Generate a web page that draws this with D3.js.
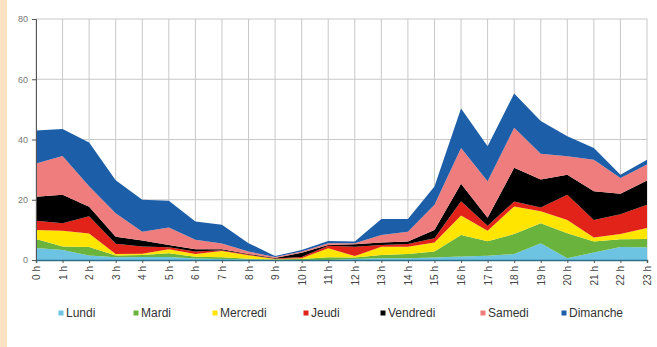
<!DOCTYPE html>
<html>
<head>
<meta charset="utf-8">
<script src="https://cdn.jsdelivr.net/npm/d3@7"></script>
<style>
  body { margin: 0; background: #fff; }
  svg { display: block; font-family: "Liberation Sans", Arial, sans-serif; }
</style>
</head>
<body>
<svg id="chart" width="657" height="347"></svg>
<script>
// hours on the x axis
const hours = ['0 h', '1 h', '2 h', '3 h', '4 h', '5 h', '6 h', '7 h', '8 h', '9 h', '10 h', '11 h',
    '12 h', '13 h', '14 h', '15 h', '16 h', '17 h', '18 h', '19 h', '20 h', '21 h', '22 h', '23 h'];

// one series per day (stacked)
const lundi    = [4, 3.3, 1.5, 0.9, 1, 1, 0.5, 0.3, 0.2, 0, 0, 0, 0.3, 0.6, 0.6, 0.8, 1.2, 1.4, 2, 5.6, 0.6, 2.5, 4.3, 4.2];
const mardi    = [3, 1.2, 2.8, 0.6, 0.7, 1.2, 0.6, 0.6, 0.2, 0.2, 0.3, 0.9, 0.5, 1.1, 1.4, 2, 7.1, 4.8, 6.6, 6.6, 8.3, 3.6, 2.6, 2.8];
const mercredi = [3, 5.2, 4.5, 0.5, 0.4, 1.4, 0.9, 2.1, 1.2, 0.1, 0.3, 3, 0.5, 2.7, 2.4, 3, 6.5, 3.5, 9.2, 4, 4.4, 1.4, 1.7, 3.6];
const jeudi    = [3, 2.5, 5.7, 3.4, 2.4, 0.6, 0.8, 0.2, 0.2, 0.2, 0.4, 0.8, 3.1, 0.6, 0.9, 1.4, 4.7, 1.7, 1.6, 1.2, 8.4, 5.8, 6.6, 7.7];
const vendredi = [8, 9.5, 3.2, 2.3, 2, 0.8, 0.8, 0.4, 0.2, 0.2, 1.4, 0.3, 0.8, 0.8, 0.8, 2.8, 5.8, 2.6, 11.2, 9.3, 6.6, 9.5, 6.8, 8.1];
const samedi   = [11, 12.8, 6.8, 7.8, 2.9, 5.8, 3.1, 1.9, 0.8, 0.3, 0.4, 0.6, 0.4, 2.5, 3.3, 8.3, 11.9, 12.1, 13.3, 8.6, 6.1, 10.5, 5.2, 5.3];
const dimanche = [11, 9, 14.5, 11, 10.6, 8.9, 6.1, 6.2, 2.8, 0.3, 0.5, 0.7, 0.5, 5.3, 4.2, 6.1, 13.1, 11.7, 11.4, 10.8, 6.7, 3.9, 1.1, 1.6];

const days = ['Lundi', 'Mardi', 'Mercredi', 'Jeudi', 'Vendredi', 'Samedi', 'Dimanche'];
const dayValues = [lundi, mardi, mercredi, jeudi, vendredi, samedi, dimanche];
const dayColors = ['#6cc4e2', '#6ab43e', '#ffe500', '#e2231a', '#000000', '#ef7d7d', '#1c5ea8'];
const yTicks = [0, 20, 40, 60, 80];

const svg = d3.select('#chart');

// peach strip on the left edge
svg.append('rect')
    .attr('x', 0).attr('y', 0)
    .attr('width', 7).attr('height', 347)
    .attr('fill', '#fbe2c5');

const plotLeft = 36, plotRight = 647, plotTop = 19, plotBottom = 260;

const x = d3.scalePoint().domain(hours).range([plotLeft, plotRight]);
const y = d3.scaleLinear().domain([0, 80]).range([plotBottom, plotTop]);

// build rows for the stack
const rows = hours.map((h, i) => {
    const row = { hour: h };
    days.forEach((d, j) => { row[d] = dayValues[j][i]; });
    return row;
});
const series = d3.stack().keys(days)(rows);

// grid lines
const grid = svg.append('g').attr('class', 'grid');
grid.selectAll('line.h')
    .data(yTicks)
    .enter()
    .append('line')
    .attr('class', 'h')
    .attr('x1', plotLeft).attr('x2', plotRight)
    .attr('y1', d => y(d)).attr('y2', d => y(d))
    .attr('stroke', '#c8c8c8').attr('stroke-width', 1);
grid.selectAll('line.v')
    .data(hours)
    .enter()
    .append('line')
    .attr('class', 'v')
    .attr('x1', d => x(d)).attr('x2', d => x(d))
    .attr('y1', plotTop).attr('y2', plotBottom)
    .attr('stroke', '#c8c8c8').attr('stroke-width', 1);

// stacked areas
const area = d3.area()
    .x(d => x(d.data.hour))
    .y0(d => y(d[0]))
    .y1(d => y(d[1]));

svg.append('g')
    .selectAll('path')
    .data(series)
    .enter()
    .append('path')
    .attr('d', area)
    .attr('fill', (d, i) => dayColors[i]);

// y axis
const yAxis = svg.append('g')
    .attr('transform', `translate(${plotLeft},0)`)
    .call(d3.axisLeft(y).tickValues(yTicks).tickSize(4).tickPadding(4));
yAxis.select('.domain').attr('stroke', '#555');
yAxis.selectAll('.tick line').attr('stroke', '#555');
yAxis.selectAll('text').attr('fill', '#777').attr('font-size', 9);

// x axis
const xAxis = svg.append('g')
    .attr('transform', `translate(0,${plotBottom})`)
    .call(d3.axisBottom(x).tickSize(3).tickPadding(3));
xAxis.select('.domain').attr('stroke', '#2d6f8a').attr('stroke-width', 1.5);
xAxis.selectAll('.tick line').attr('stroke', '#555');
xAxis.selectAll('text')
    .attr('fill', '#444')
    .attr('font-size', 10)
    .attr('text-anchor', 'end')
    .attr('transform', 'rotate(-90)')
    .attr('x', -6)
    .attr('y', 0)
    .attr('dy', '0.35em');

// legend
const legendX = [61, 136, 215, 306, 383, 483, 564];
const legend = svg.append('g')
    .selectAll('g')
    .data(days)
    .enter()
    .append('g')
    .attr('transform', (d, i) => `translate(${legendX[i]},313)`);
legend.append('rect')
    .attr('x', -2.5).attr('y', -2.5)
    .attr('width', 5).attr('height', 5)
    .attr('fill', (d, i) => dayColors[i]);
legend.append('text')
    .attr('x', 5)
    .attr('dy', '0.35em')
    .attr('font-size', 12)
    .attr('fill', '#333')
    .text(d => d);
</script>
</body>
</html>
